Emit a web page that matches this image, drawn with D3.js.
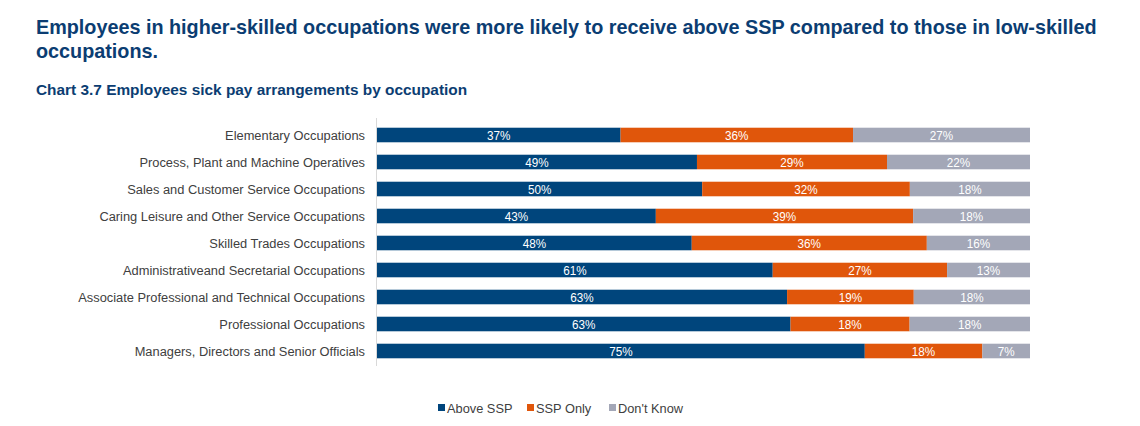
<!DOCTYPE html>
<html><head><meta charset="utf-8">
<script src="https://cdn.jsdelivr.net/npm/d3@7"></script>
<style>
body{margin:0;background:#fff;}
text{font-family:"Liberation Sans",Arial,sans-serif;}
</style></head>
<body><svg id="c" width="1140" height="426"></svg>
<script>
const categories = ["Elementary Occupations","Process, Plant and Machine Operatives","Sales and Customer Service Occupations","Caring Leisure and Other Service Occupations","Skilled Trades Occupations","Administrativeand Secretarial Occupations","Associate Professional and Technical Occupations","Professional Occupations","Managers, Directors and Senior Officials"];
const seriesNames = ["Above SSP","SSP Only","Don't Know"];
const aboveSSP = [37.3,49.0,49.8,42.7,48.2,60.6,62.8,63.2,74.7];
const sspOnly  = [35.6,29.1,31.8,39.4,36.0,26.7,19.4,18.2,18.0];
const dontKnow = [27.1,21.9,18.4,17.9,15.8,12.7,17.8,18.4,7.3];
const colors = ["#00457c","#e0560b","#a3a7b7"];

const svg = d3.select("#c");
svg.append("text").attr("x",36).attr("y",34).attr("font-size",19.8).attr("font-weight","bold").attr("fill","#0b3d72")
  .text("Employees in higher-skilled occupations were more likely to receive above SSP compared to those in low-skilled");
svg.append("text").attr("x",36).attr("y",58).attr("font-size",19.8).attr("font-weight","bold").attr("fill","#0b3d72")
  .text("occupations.");
svg.append("text").attr("x",36).attr("y",95).attr("font-size",15.4).attr("font-weight","bold").attr("fill","#0b3d72")
  .text("Chart 3.7 Employees sick pay arrangements by occupation");

const data = categories.map((c,i)=>({cat:c, v:[aboveSSP[i],sspOnly[i],dontKnow[i]]}));
const x = d3.scaleLinear().domain([0,1]).range([377,1030]);
const y = d3.scaleBand().domain(categories).range([121.5,364.5]).paddingInner(0.46).paddingOuter(0.23);

svg.append("line").attr("x1",376.5).attr("x2",376.5).attr("y1",118).attr("y2",366).attr("stroke","#d9d9d9");

const fmt = d3.format(".0f");
data.forEach(d=>{
  const tot = d3.sum(d.v);
  let acc = 0;
  d.v.forEach((v,k)=>{
    const x0 = x(acc/tot), x1 = x((acc+v)/tot);
    svg.append("rect").attr("x",x0).attr("y",y(d.cat)).attr("width",x1-x0).attr("height",y.bandwidth())
      .attr("fill",colors[k]);
    svg.append("text").attr("x",(x0+x1)/2).attr("y",y(d.cat)+y.bandwidth()/2).attr("dy","0.36em")
      .attr("text-anchor","middle").attr("font-size",13).attr("fill","#fff")
      .attr("transform",`translate(${(x0+x1)/2},0) scale(0.9,1) translate(${-(x0+x1)/2},0)`)
      .text(fmt(v)+"%");
    acc += v;
  });
  svg.append("text").attr("x",365).attr("y",y(d.cat)+y.bandwidth()/2).attr("dy","0.36em")
    .attr("text-anchor","end").attr("font-size",12.85).attr("fill","#404040").text(d.cat);
});

const legX = [438,527,609];
seriesNames.forEach((s,k)=>{
  svg.append("rect").attr("x",legX[k]).attr("y",404).attr("width",7).attr("height",7).attr("fill",colors[k]);
  svg.append("text").attr("x",legX[k]+9).attr("y",412.5).attr("font-size",12.8).attr("fill","#404040").text(s);
});
</script></body></html>
